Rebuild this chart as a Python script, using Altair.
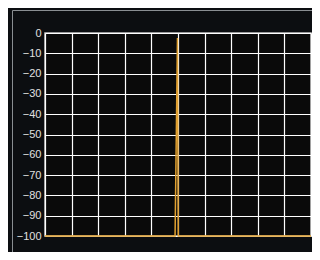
import altair as alt
import pandas as pd

# Data
freq = [0.0, 4.89, 4.98, 5.01, 10.0]
level = [-100, -100, -2.5, -100, -100]
y_ticks = [0, -10, -20, -30, -40, -50, -60, -70, -80, -90, -100]
x_ticks = [0, 1, 2, 3, 4, 5, 6, 7, 8, 9, 10]

df = pd.DataFrame({"f": freq, "db": level})

frame = alt.Chart(pd.DataFrame({"a": [0]})).mark_rect(
    fill=None, stroke="#8a8e92", strokeWidth=1, clip=False
).encode(
    x=alt.value(-32.5), x2=alt.value(300), y=alt.value(-22.5), y2=alt.value(260)
)

line = alt.Chart(df).mark_line(color="#e0a030", strokeWidth=1.5).encode(
    x=alt.X("f:Q", scale=alt.Scale(domain=[0, 10], nice=False),
            axis=alt.Axis(values=x_ticks, labels=False, ticks=False, domain=False,
                          title=None, grid=True, gridColor="#ffffff", gridWidth=1.2, gridOpacity=1)),
    y=alt.Y("db:Q", scale=alt.Scale(domain=[-100, 0], nice=False),
            axis=alt.Axis(values=y_ticks, ticks=False, domain=False, title=None,
                          labelColor="#e0e0e0", labelFontSize=11, labelFont="Liberation Sans",
                          labelPadding=4, grid=True, gridColor="#ffffff", gridWidth=1.2, gridOpacity=1)),
)

chart = alt.layer(frame, line).properties(
    width=266, height=203,
    padding={"left": 37, "top": 25, "right": 1, "bottom": 16},
    autosize=alt.AutoSizeParams(type="none"),
    background="#0c0e11",
    usermeta={"embedOptions": {"defaultStyle": "html, body { background: #0c0e11; }"}},
).configure_view(
    fill="#0a0a0a", stroke="#c8c8c8", strokeWidth=1.5
)

chart.save("out.html", embed_options={"renderer": "svg", "actions": False})
